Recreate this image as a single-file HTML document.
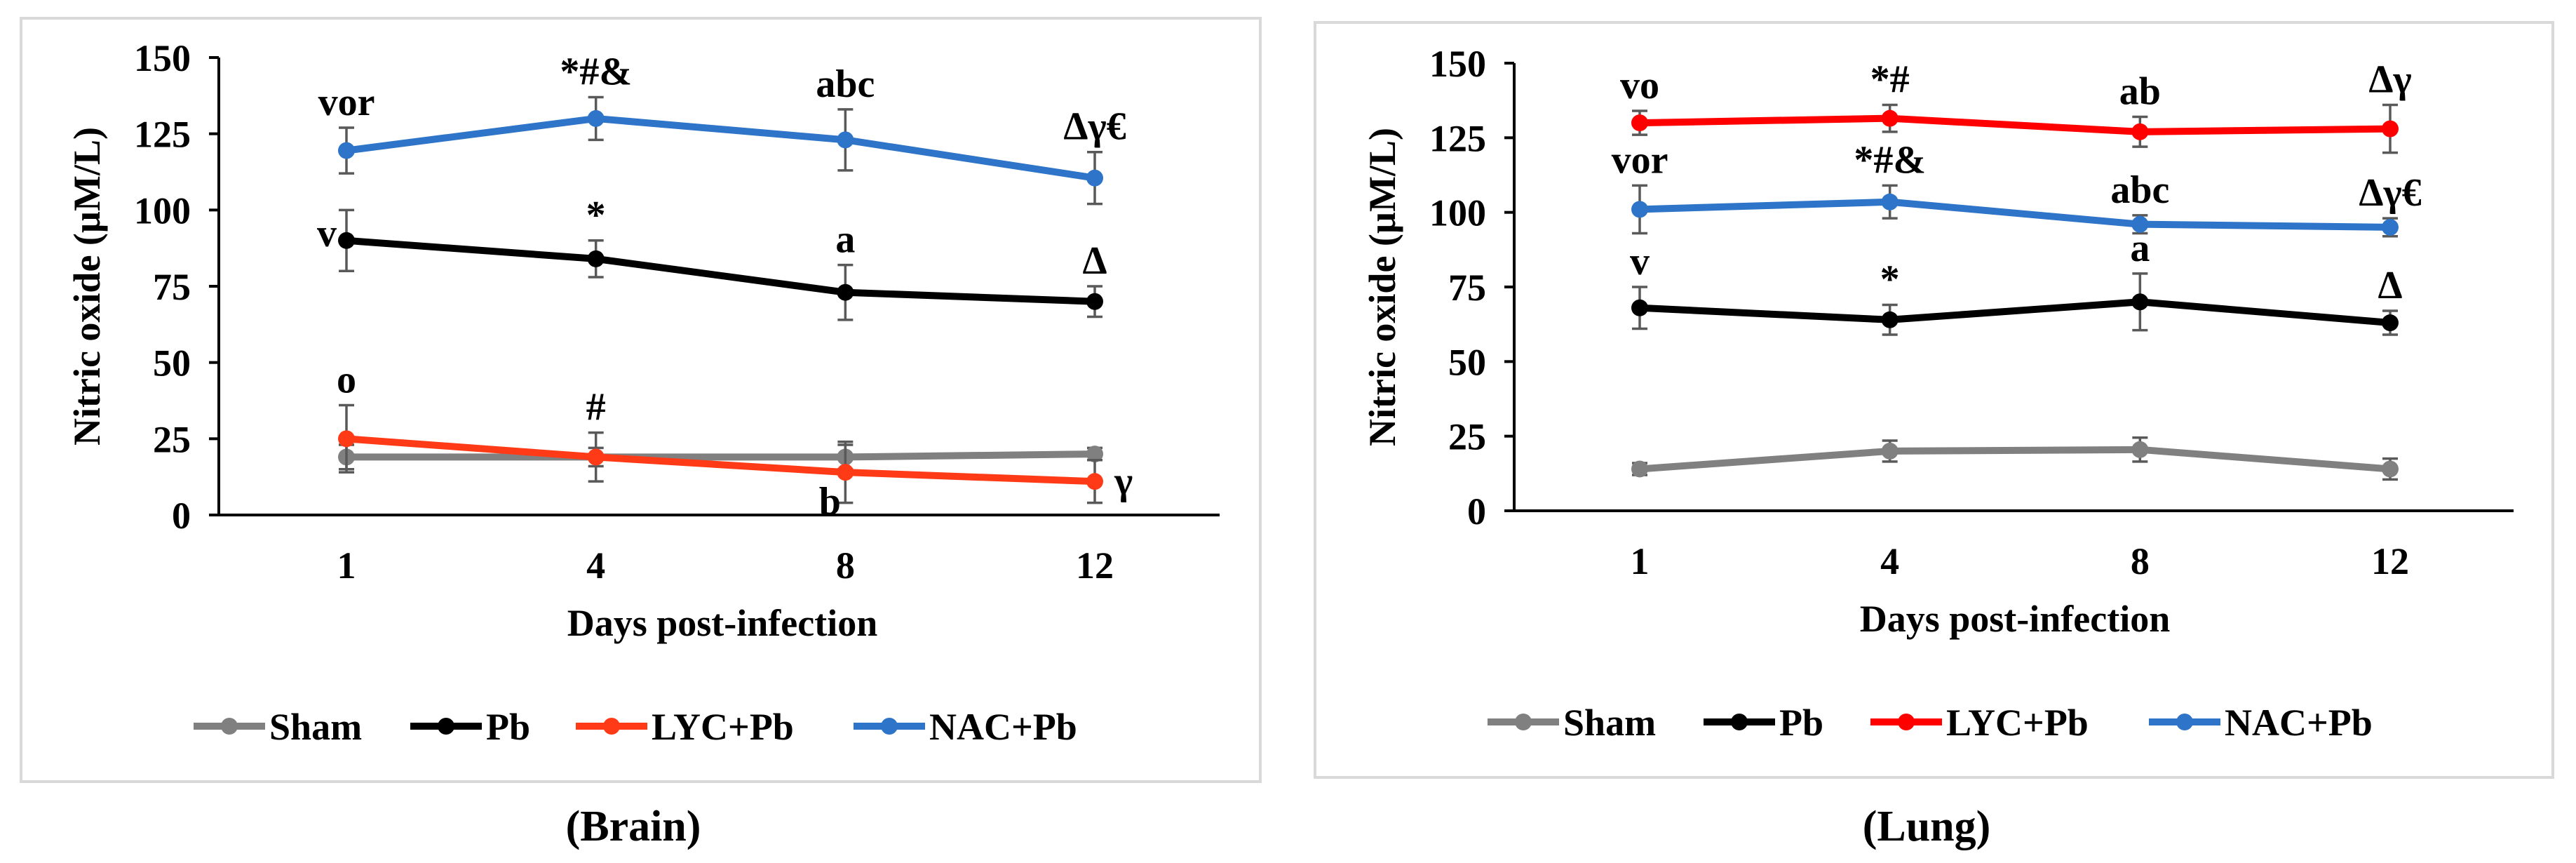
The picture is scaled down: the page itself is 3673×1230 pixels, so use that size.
<!DOCTYPE html>
<html><head><meta charset="utf-8">
<style>
html,body{margin:0;padding:0;background:#fff;}
svg{display:block;}
text{font-family:"Liberation Serif",serif;font-weight:bold;}
</style></head>
<body>
<svg id="fig" width="3673" height="1230" viewBox="0 0 3673 1230" xmlns="http://www.w3.org/2000/svg">
<rect x="0" y="0" width="3673" height="1230" fill="#fff"/>
<rect x="30" y="26" width="1767" height="1088" fill="none" stroke="#d9d9d9" stroke-width="4"/>
<rect x="1875" y="32" width="1765" height="1076" fill="none" stroke="#d9d9d9" stroke-width="4"/>
<text x="903" y="1198" font-size="62" text-anchor="middle" font-weight="bold">(Brain)</text>
<text x="2747" y="1198" font-size="62" text-anchor="middle" font-weight="bold">(Lung)</text>
</svg>
<script>
// ---- shared data ----
const days = ["1", "4", "8", "12"];
const yTicks = [0, 25, 50, 75, 100, 125, 150];
const seriesNames = ["Sham", "Pb", "LYC+Pb", "NAC+Pb"];

// ---- Brain data ----
const brainSham = [19, 19, 19, 20];
const brainShamErr = [4, 3, 4, 2];
const brainPb = [90, 84, 73, 70];
const brainPbErr = [10, 6, 9, 5];
const brainLyc = [25, 19, 14, 11];
const brainLycErr = [11, 8, 10, 7];
const brainNac = [119.5, 130, 123, 110.5];
const brainNacErr = [7.5, 7, 10, 8.5];
const brainPbLabels = ["v", "*", "a", "Δ"];
const brainLycLabels = ["o", "#", "b", "γ"];
const brainNacLabels = ["vor", "*#&", "abc", "Δγ€"];

// ---- Lung data ----
const lungSham = [14, 20, 20.5, 14];
const lungShamErr = [2, 3.5, 4, 3.5];
const lungPb = [68, 64, 70, 63];
const lungPbErr = [7, 5, 9.5, 4];
const lungLyc = [130, 131.5, 127, 128];
const lungLycErr = [4, 4.5, 5, 8];
const lungNac = [101, 103.5, 96, 95];
const lungNacErr = [8, 5.5, 3, 3];
const lungPbLabels = ["v", "*", "a", "Δ"];
const lungLycLabels = ["vo", "*#", "ab", "Δγ"];
const lungNacLabels = ["vor", "*#&", "abc", "Δγ€"];

const NS = "http://www.w3.org/2000/svg";
const svg = document.getElementById("fig");
function mk(tag, attrs, parent) {
  const e = document.createElementNS(NS, tag);
  for (const k in attrs) e.setAttribute(k, attrs[k]);
  (parent || svg).appendChild(e);
  return e;
}

function drawPanel(p) {
  const g = mk("g", {});
  
  
  const yS = v => p.y0 - (v / 150) * (p.y0 - p.y150);
  const xS = i => p.xs[0] + i * (p.xs[1] - p.xs[0]) / (days.length - 1);
  // axes
  const ya = mk("line", {x1: p.ax, y1: p.y150, x2: p.ax, y2: p.y0, stroke: "#000", "stroke-width": 4}, g);
  
  
  const xa = mk("line", {x1: p.ax - 14, y1: p.y0, x2: p.xEnd, y2: p.y0, stroke: "#000", "stroke-width": 4}, g);
  
  
  yTicks.forEach(t => {
    mk("line", {x1: p.ax - 14, y1: yS(t), x2: p.ax, y2: yS(t), stroke: "#000", "stroke-width": 4}, g);
    const tl = mk("text", {x: p.ax - 40, y: yS(t) + 19, "font-size": 54, "text-anchor": "end"}, g);
    tl.textContent = t;
    
    
  });
  days.forEach((d, i) => {
    const tl = mk("text", {x: xS(i), y: p.y0 + 90, "font-size": 54, "text-anchor": "middle"}, g);
    tl.textContent = d;
    
    
  });
  const xt = mk("text", {x: p.xTitleX, y: p.y0 + 172, "font-size": 54, "text-anchor": "middle"}, g);
  xt.textContent = "Days post-infection";
  
  
  const yt = mk("text", {x: 0, y: 0, "font-size": 54, "text-anchor": "middle", transform: `translate(${p.ax - 170},${(p.y0 + p.y150) / 2}) rotate(-90)`}, g);
  yt.textContent = "Nitric oxide (µM/L)";
  
  

  p.series.forEach(s => {
    const sg = mk("g", {}, g);
    
    
    // error bars
    s.vals.forEach((v, i) => {
      const x = xS(i), e = s.err[i];
      mk("line", {x1: x, y1: yS(v + e), x2: x, y2: yS(v - e), stroke: "#595959", "stroke-width": 3.5}, sg);
      mk("line", {x1: x - 11, y1: yS(v + e), x2: x + 11, y2: yS(v + e), stroke: "#595959", "stroke-width": 3.5}, sg);
      mk("line", {x1: x - 11, y1: yS(v - e), x2: x + 11, y2: yS(v - e), stroke: "#595959", "stroke-width": 3.5}, sg);
    });
    const pts = s.vals.map((v, i) => xS(i) + "," + yS(v)).join(" ");
    const pl = mk("polyline", {points: pts, fill: "none", stroke: s.color, "stroke-width": 10, "stroke-linejoin": "round"}, sg);
    
    
    s.vals.forEach((v, i) => {
      const c = mk("circle", {cx: xS(i), cy: yS(v), r: 12, fill: s.color}, sg);
      
      
    });
    if (s.labels) {
      s.vals.forEach((v, i) => {
        const pos = s.pos ? s.pos[i] : "top";
        let x = xS(i), y, anchor = "middle";
        if (pos === "top") y = yS(v + s.err[i]) - 18;
        else if (pos === "left") { x -= 14; y = yS(v) + 8; anchor = "end"; }
        else if (pos === "right") { x += 28; y = yS(v) + 18; anchor = "start"; }
        else if (pos === "below") { x -= 22; y = yS(v) + 60; }
        const t = mk("text", {x: x, y: y, "font-size": 56, "text-anchor": anchor}, sg);
        t.textContent = s.labels[i];
        
        
      });
    }
  });

  // legend
  p.legend.forEach((L, k) => {
    const lg = mk("g", {}, g);
    
    
    mk("line", {x1: L[0], y1: p.legY, x2: L[0] + 102, y2: p.legY, stroke: p.legColors[k], "stroke-width": 10}, lg);
    mk("circle", {cx: L[0] + 51, cy: p.legY, r: 12, fill: p.legColors[k]}, lg);
    const t = mk("text", {x: L[0] + 108, y: p.legY + 19, "font-size": 54}, lg);
    t.textContent = seriesNames[k];
  });
}

drawPanel({
  name: "brain", ax: 312, y0: 734, y150: 82, xs: [494, 1561], xEnd: 1739, xTitleX: 1030, legY: 1035,
  legend: [[276], [585], [821], [1217]],
  legColors: ["#808080", "#000000", "#ff3b17", "#2e74c8"],
  series: [
    {key: "sham", vals: brainSham, err: brainShamErr, color: "#808080"},
    {key: "pb", vals: brainPb, err: brainPbErr, color: "#000000", labels: brainPbLabels, pos: ["left", "top", "top", "top"]},
    {key: "lyc-pb", vals: brainLyc, err: brainLycErr, color: "#ff3b17", labels: brainLycLabels, pos: ["top", "top", "below", "right"]},
    {key: "nac-pb", vals: brainNac, err: brainNacErr, color: "#2e74c8", labels: brainNacLabels}
  ]
});
drawPanel({
  name: "lung", ax: 2159, y0: 728, y150: 90, xs: [2338, 3408], xEnd: 3584, xTitleX: 2873, legY: 1029,
  legend: [[2121], [2429], [2667], [3064]],
  legColors: ["#808080", "#000000", "#ff0000", "#2e74c8"],
  series: [
    {key: "sham", vals: lungSham, err: lungShamErr, color: "#808080"},
    {key: "pb", vals: lungPb, err: lungPbErr, color: "#000000", labels: lungPbLabels},
    {key: "nac-pb", vals: lungNac, err: lungNacErr, color: "#2e74c8", labels: lungNacLabels},
    {key: "lyc-pb", vals: lungLyc, err: lungLycErr, color: "#ff0000", labels: lungLycLabels}
  ]
});
</script>
</body></html>
